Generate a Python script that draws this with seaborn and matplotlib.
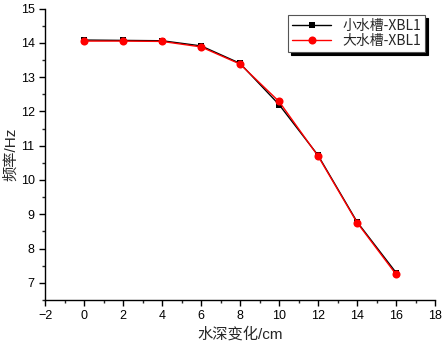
import numpy as np
import matplotlib
matplotlib.use('Agg')
import matplotlib.pyplot as plt
import pandas as pd
import seaborn as sns
from matplotlib.ticker import MultipleLocator

depth = [0, 2, 4, 6, 8, 10, 12, 14, 16]
small_tank = [14.08, 14.07, 14.06, 13.91, 13.40, 12.20, 10.72, 8.78, 7.30]
large_tank = [14.05, 14.05, 14.04, 13.88, 13.38, 12.29, 10.70, 8.76, 7.25]
series_names = ['小水槽-XBL1', '大水槽-XBL1']

df = pd.concat([
    pd.DataFrame({'depth': depth, 'freq': small_tank, 'series': series_names[0]}),
    pd.DataFrame({'depth': depth, 'freq': large_tank, 'series': series_names[1]}),
])

sns.set_style("ticks")
plt.rcParams['font.family'] = ['Liberation Sans', 'Noto Sans CJK SC', 'DejaVu Sans']
plt.rcParams['xtick.direction'] = 'out'
plt.rcParams['ytick.direction'] = 'out'

fig = plt.figure(figsize=(4.47, 3.47), dpi=100)
ax = fig.add_axes([0.1007, 0.1354, 0.8725, 0.8401])

ax = sns.lineplot(data=df, x='depth', y='freq', hue='series', style='series',
                  palette=['black', 'red'], markers=['s', 'o'], dashes=False,
                  markersize=4.5, linewidth=1, markeredgewidth=0, ax=ax)
# red circles a bit bigger
for line in ax.lines:
    if line.get_marker() == 'o':
        line.set_markersize(5.8)

ax.set_xlim(-2, 18)
ax.set_ylim(6.5, 15)
ax.xaxis.set_major_locator(MultipleLocator(2))
ax.xaxis.set_minor_locator(MultipleLocator(1))
ax.yaxis.set_major_locator(MultipleLocator(1))
ax.yaxis.set_minor_locator(MultipleLocator(0.5))
ax.tick_params(which='major', length=4, width=1, labelsize=9, colors='black')
ax.tick_params(which='minor', length=2.5, width=1)
sns.despine(ax=ax)
for s in ['left', 'bottom']:
    ax.spines[s].set_linewidth(1)
    ax.spines[s].set_color('black')

ax.set_xlabel('水深变化/cm', fontsize=11, labelpad=3)
ax.set_ylabel('频率/Hz', fontsize=11, labelpad=2)

handles, labels = ax.get_legend_handles_labels()
for h in handles:
    if h.get_marker() == 'o':
        h.set_markersize(5.8)
    else:
        h.set_markersize(4.5)
leg = ax.legend(handles, labels, loc='upper right', bbox_to_anchor=(0.975, 0.978),
                frameon=True, fancybox=False, shadow={'color': 'black', 'alpha': 1},
                edgecolor='#555555', handlelength=2.8, borderpad=0.3,
                labelspacing=0.05, handletextpad=0.8, borderaxespad=0,
                prop={'family': ['Noto Sans CJK SC', 'DejaVu Sans'], 'size': 10})
leg.get_frame().set_linewidth(0.8)
leg.get_frame().set_alpha(1)

plt.savefig('out.png', dpi=100)
